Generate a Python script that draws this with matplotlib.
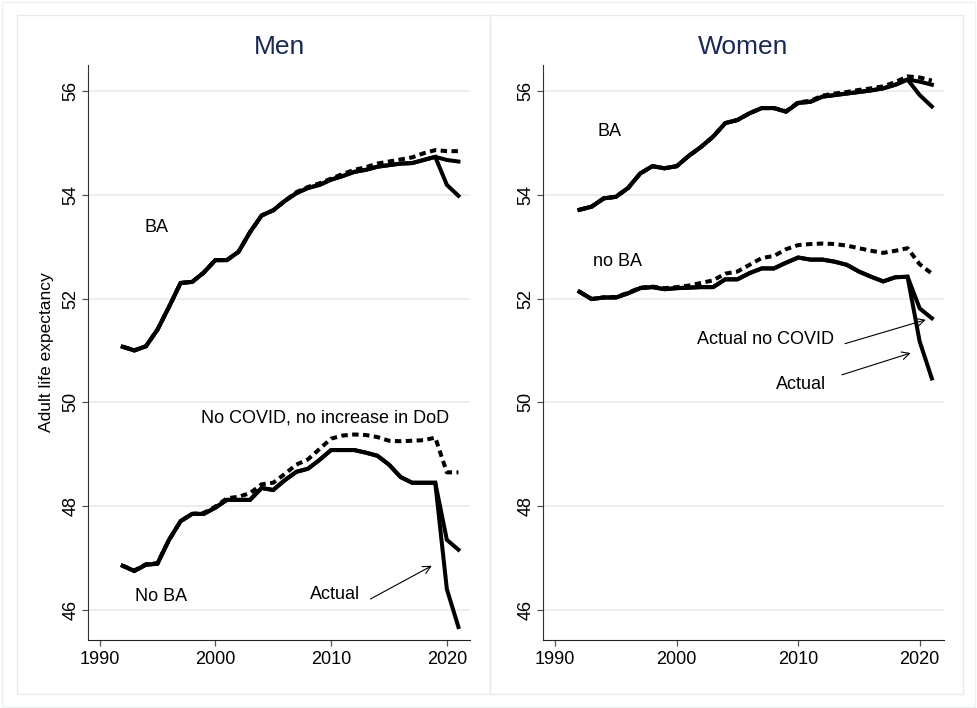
import matplotlib
matplotlib.use('Agg')
from matplotlib import pyplot as plt
from matplotlib.patches import Rectangle

plt.rcParams['font.family'] = ['Liberation Sans', 'DejaVu Sans']

years = list(range(1992, 2022))

# men, BA
men_ba_actual = [51.07, 51.00, 51.08, 51.40, 51.84, 52.30, 52.32, 52.50,
                 52.74, 52.74, 52.90, 53.28, 53.60, 53.70, 53.88, 54.03, 54.13, 54.19,
                 54.29, 54.36, 54.44, 54.48, 54.54, 54.57, 54.60, 54.61, 54.67, 54.73,
                 54.19, 53.98]
men_ba_nocovid = [51.07, 51.00, 51.08, 51.40, 51.84, 52.30, 52.32, 52.50,
                  52.74, 52.74, 52.90, 53.28, 53.60, 53.70, 53.88, 54.03, 54.13, 54.19,
                  54.29, 54.36, 54.44, 54.48, 54.54, 54.57, 54.60, 54.61, 54.67, 54.73,
                  54.67, 54.64]
men_ba_nodod = [51.07, 51.00, 51.08, 51.40, 51.84, 52.30, 52.32, 52.50,
                52.74, 52.74, 52.90, 53.28, 53.60, 53.70, 53.88, 54.05, 54.15, 54.22,
                54.31, 54.40, 54.48, 54.53, 54.60, 54.64, 54.68, 54.72, 54.80, 54.86,
                54.84, 54.84]

# men, no BA
men_noba_actual = [46.85, 46.75, 46.87, 46.89, 47.35, 47.71, 47.85, 47.85,
                   47.97, 48.12, 48.12, 48.12, 48.35, 48.31, 48.50, 48.66, 48.72, 48.89,
                   49.08, 49.08, 49.08, 49.03, 48.97, 48.80, 48.56, 48.45, 48.45, 48.45,
                   46.40, 45.67]
men_noba_nocovid = [46.85, 46.75, 46.87, 46.89, 47.35, 47.71, 47.85, 47.85,
                    47.97, 48.12, 48.12, 48.12, 48.35, 48.31, 48.50, 48.66, 48.72, 48.89,
                    49.08, 49.08, 49.08, 49.03, 48.97, 48.80, 48.56, 48.45, 48.45, 48.45,
                    47.35, 47.16]
men_noba_nodod = [46.85, 46.76, 46.88, 46.90, 47.35, 47.71, 47.85, 47.87,
                  47.99, 48.15, 48.18, 48.25, 48.42, 48.45, 48.62, 48.80, 48.90, 49.10,
                  49.30, 49.36, 49.38, 49.37, 49.33, 49.26, 49.25, 49.26, 49.27, 49.32,
                  48.65, 48.65]

# women, BA
women_ba_actual = [53.71, 53.77, 53.93, 53.96, 54.13, 54.41, 54.55, 54.51,
                   54.55, 54.75, 54.92, 55.12, 55.38, 55.44, 55.57, 55.67, 55.67, 55.60,
                   55.77, 55.79, 55.89, 55.92, 55.95, 55.98, 56.01, 56.05, 56.12, 56.22,
                   55.92, 55.70]
women_ba_nocovid = [53.71, 53.77, 53.93, 53.96, 54.13, 54.41, 54.55, 54.51,
                    54.55, 54.75, 54.92, 55.12, 55.38, 55.44, 55.57, 55.67, 55.67, 55.60,
                    55.77, 55.79, 55.89, 55.92, 55.95, 55.98, 56.01, 56.05, 56.12, 56.22,
                    56.18, 56.12]
women_ba_nodod = [53.71, 53.77, 53.93, 53.96, 54.13, 54.41, 54.55, 54.51,
                  54.55, 54.75, 54.92, 55.12, 55.38, 55.44, 55.57, 55.67, 55.67, 55.61,
                  55.78, 55.81, 55.91, 55.95, 55.98, 56.02, 56.05, 56.09, 56.17, 56.28,
                  56.26, 56.20]

# women, no BA
women_noba_actual = [52.13, 51.99, 52.02, 52.02, 52.10, 52.20, 52.22, 52.18,
                     52.20, 52.21, 52.22, 52.22, 52.37, 52.37, 52.49, 52.58, 52.58, 52.69,
                     52.79, 52.75, 52.75, 52.71, 52.65, 52.52, 52.42, 52.33, 52.41, 52.42,
                     51.17, 50.46]
women_noba_nocovid = [52.13, 51.99, 52.02, 52.02, 52.10, 52.20, 52.22, 52.18,
                      52.20, 52.21, 52.22, 52.22, 52.37, 52.37, 52.49, 52.58, 52.58, 52.69,
                      52.79, 52.75, 52.75, 52.71, 52.65, 52.52, 52.42, 52.33, 52.41, 52.42,
                      51.81, 51.62]
women_noba_nodod = [52.13, 51.99, 52.02, 52.03, 52.11, 52.21, 52.23, 52.20,
                    52.22, 52.25, 52.30, 52.35, 52.48, 52.52, 52.65, 52.78, 52.82, 52.95,
                    53.03, 53.05, 53.06, 53.05, 53.02, 52.97, 52.92, 52.88, 52.92, 52.97,
                    52.66, 52.48]

panel_titles = ['Men', 'Women']
x_ticks = [1990, 2000, 2010, 2020]
y_ticks = [46, 48, 50, 52, 54, 56]

W, H = 977, 708
fig = plt.figure(figsize=(W / 100, H / 100), dpi=100)

# stata style frames
frame_col = '#e6eced'
fig.patches.append(Rectangle((2 / W, 1 / H), 973 / W, 705 / H, transform=fig.transFigure,
                             fill=False, ec='#eef2f3', lw=1))
fig.patches.append(Rectangle((17 / W, 14 / H), 473 / W, 679 / H, transform=fig.transFigure,
                             fill=False, ec=frame_col, lw=1))
fig.patches.append(Rectangle((490 / W, 14 / H), 473 / W, 679 / H, transform=fig.transFigure,
                             fill=False, ec=frame_col, lw=1))

ax_men = fig.add_axes([88 / W, 68 / H, 382 / W, 575 / H])
ax_wom = fig.add_axes([543 / W, 68 / H, 401 / W, 575 / H])

dash = (0, (1.6, 1.1))
lw = 2.9

for ax, title, series in [
        (ax_men, panel_titles[0],
         [(men_ba_nodod, men_ba_nocovid, men_ba_actual),
          (men_noba_nodod, men_noba_nocovid, men_noba_actual)]),
        (ax_wom, panel_titles[1],
         [(women_ba_nodod, women_ba_nocovid, women_ba_actual),
          (women_noba_nodod, women_noba_nocovid, women_noba_actual)])]:
    for nodod, nocovid, actual in series:
        ax.plot(years, nodod, color='black', lw=lw, linestyle=dash)
        ax.plot(years, nocovid, color='black', lw=lw, solid_joinstyle='miter')
        ax.plot(years, actual, color='black', lw=lw, solid_joinstyle='miter')
    ax.set_xlim(1989, 2022)
    ax.set_ylim(45.42, 56.5)
    ax.set_xticks(x_ticks)
    ax.set_yticks(y_ticks)
    ax.set_yticklabels([str(v) for v in y_ticks], rotation=90, va='center')
    ax.grid(axis='y', color='#eaf0f2', lw=1.4)
    ax.set_axisbelow(True)
    for s in ['top', 'right']:
        ax.spines[s].set_visible(False)
    ax.spines['left'].set_color('#333333')
    ax.spines['bottom'].set_color('#222222')
    ax.tick_params(axis='both', length=4, width=0.9, color='#555555', labelsize=13, pad=4)
    ax.tick_params(axis='y', pad=2)
    ax.text(0.5, 1.031, title, transform=ax.transAxes, ha='center', va='center',
            fontsize=19, color='#1a2a55')

ax_men.set_ylabel('Adult life expectancy', fontsize=12.5, labelpad=6)

arrow = dict(arrowstyle='->,head_length=0.55,head_width=0.28', lw=0.8, color='black',
             shrinkA=0, shrinkB=0)

# men labels
ax_men.text(1994.9, 53.36, 'BA', fontsize=13, ha='center', va='center')
ax_men.text(1998.8, 49.70, 'No COVID, no increase in DoD', fontsize=13, va='center')
ax_men.text(1993.1, 46.25, 'No BA', fontsize=13, va='center')
ax_men.text(2008.15, 46.29, 'Actual', fontsize=13, va='center')
ax_men.annotate('', xy=(2018.7, 46.85), xytext=(2013.4, 46.21), arrowprops=arrow)

# women labels
ax_wom.text(1993.5, 55.21, 'BA', fontsize=13, va='center')
ax_wom.text(1993.1, 52.71, 'no BA', fontsize=13, va='center')
ax_wom.text(2001.7, 51.22, 'Actual no COVID', fontsize=13, va='center')
ax_wom.annotate('', xy=(2020.5, 51.59), xytext=(2013.85, 51.13), arrowprops=arrow)
ax_wom.text(2008.2, 50.34, 'Actual', fontsize=13, va='center')
ax_wom.annotate('', xy=(2019.26, 50.95), xytext=(2013.6, 50.53), arrowprops=arrow)

plt.savefig('out.png', dpi=100)
